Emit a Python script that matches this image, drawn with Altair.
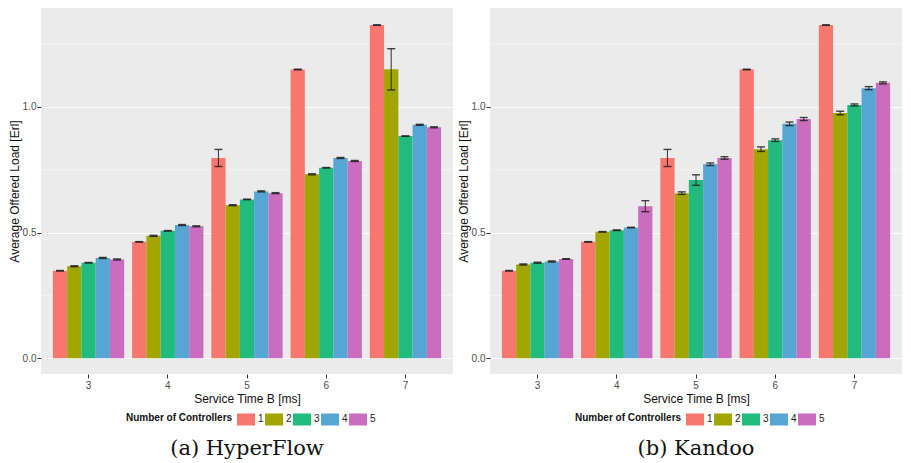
import altair as alt
import pandas as pd

service_times = ["3", "4", "5", "6", "7"]
controllers = ["1", "2", "3", "4", "5"]
colors = ["#F7766D", "#A3A500", "#22BB7D", "#57A5D3", "#CA6DBE"]

# HyperFlow: mean per controller count, indexed by service time 3..7
hyper_mean = {
    "1": [0.348, 0.463, 0.797, 1.149, 1.326],
    "2": [0.366, 0.487, 0.609, 0.732, 1.150],
    "3": [0.380, 0.507, 0.632, 0.758, 0.884],
    "4": [0.399, 0.530, 0.664, 0.797, 0.929],
    "5": [0.393, 0.525, 0.657, 0.785, 0.919],
}
hyper_err = {
    "1": [0.001, 0.001, 0.034, 0.001, 0.001],
    "2": [0.002, 0.002, 0.002, 0.002, 0.082],
    "3": [0.001, 0.001, 0.001, 0.001, 0.001],
    "4": [0.002, 0.002, 0.002, 0.002, 0.002],
    "5": [0.002, 0.002, 0.002, 0.002, 0.002],
}
# Kandoo
kandoo_mean = {
    "1": [0.348, 0.463, 0.797, 1.149, 1.326],
    "2": [0.373, 0.503, 0.657, 0.832, 0.976],
    "3": [0.380, 0.509, 0.709, 0.868, 1.008],
    "4": [0.385, 0.520, 0.772, 0.933, 1.075],
    "5": [0.395, 0.605, 0.797, 0.952, 1.096],
}
kandoo_err = {
    "1": [0.001, 0.001, 0.034, 0.001, 0.001],
    "2": [0.002, 0.001, 0.005, 0.009, 0.007],
    "3": [0.002, 0.001, 0.021, 0.005, 0.004],
    "4": [0.002, 0.001, 0.005, 0.007, 0.006],
    "5": [0.001, 0.022, 0.005, 0.006, 0.004],
}
major_ticks = [0.0, 0.5, 1.0]
minor_ticks = [0.25, 0.75, 1.25]
y_domain = [-0.063, 1.394]

FONT = "Liberation Sans"
W, H = 412, 366


def panel(mean, err, caption):
    rows = []
    for c in controllers:
        for i, s in enumerate(service_times):
            m = mean[c][i]
            e = err[c][i]
            rows.append({"service": s, "ctrl": c, "mean": m, "lo": m - e, "hi": m + e})
    df = pd.DataFrame(rows)

    xenc = alt.X(
        "service:N",
        title="Service Time B [ms]",
        sort=service_times,
        scale=alt.Scale(paddingInner=0.1, paddingOuter=0.15),
        axis=alt.Axis(labelAngle=0, bandPosition=0.5),
    )
    xoff = alt.XOffset("ctrl:N", sort=controllers, scale=alt.Scale(paddingInner=0, paddingOuter=0))
    yscale = alt.Scale(domain=y_domain, nice=False, zero=False)

    minor = (
        alt.Chart(pd.DataFrame({"v": minor_ticks}))
        .mark_rule(color="white", strokeWidth=0.5)
        .encode(y=alt.Y("v:Q", scale=yscale))
    )
    base = alt.Chart(df)
    bars = base.mark_bar(opacity=1).encode(
        x=xenc,
        xOffset=xoff,
        y=alt.Y(
            "mean:Q",
            scale=yscale,
            title="Average Offered Load [Erl]",
            axis=alt.Axis(values=major_ticks, format=".1f"),
        ),
        y2=alt.datum(0),
        color=alt.Color(
            "ctrl:N",
            sort=controllers,
            scale=alt.Scale(domain=controllers, range=colors),
            title="Number of Controllers",
            legend=alt.Legend(orient="none", legendX=85, legendY=402),
        ),
    )
    rules = base.mark_rule(color="#222222", strokeWidth=1.1, opacity=0.85).encode(
        x=alt.X("service:N", sort=service_times),
        xOffset=alt.XOffset("ctrl:N", sort=controllers),
        y=alt.Y("lo:Q", scale=yscale),
        y2="hi:Q",
    )
    cap_lo = base.mark_tick(color="#222222", size=8, thickness=1.4, opacity=0.85).encode(
        x=alt.X("service:N", sort=service_times),
        xOffset=alt.XOffset("ctrl:N", sort=controllers),
        y=alt.Y("lo:Q", scale=yscale),
    )
    cap_hi = base.mark_tick(color="#222222", size=8, thickness=1.4, opacity=0.85).encode(
        x=alt.X("service:N", sort=service_times),
        xOffset=alt.XOffset("ctrl:N", sort=controllers),
        y=alt.Y("hi:Q", scale=yscale),
    )
    return alt.layer(minor, bars, rules, cap_lo, cap_hi).properties(
        width=W,
        height=H,
        title=alt.TitleParams(
            caption,
            orient="bottom",
            anchor="middle",
            font="DejaVu Serif",
            fontSize=21,
            fontWeight="normal",
            color="#111111",
            offset=12,
        ),
    )


left = panel(hyper_mean, hyper_err, "(a) HyperFlow")
right = panel(kandoo_mean, kandoo_err, "(b) Kandoo")

chart = (
    alt.hconcat(left, right, spacing=3)
    .resolve_legend(color="independent")
    .properties(padding=0)
    .configure_view(fill="#EBEBEB", stroke=None)
    .configure_axis(
        labelFont=FONT,
        titleFont=FONT,
        labelFontSize=10,
        labelColor="#4D4D4D",
        titleFontSize=12,
        titleFontWeight="normal",
        titleColor="#111111",
        domain=False,
        tickColor="#333333",
        tickSize=4,
        tickWidth=1,
        gridColor="white",
        gridWidth=1.1,
        labelPadding=2,
        titlePadding=3,
    )
    .configure_axisY(labelPadding=1, titlePadding=1)
    .configure_legend(
        direction="horizontal",
        titleOrient="left",
        titleFont=FONT,
        labelFont=FONT,
        titleFontSize=10,
        titleFontWeight="bold",
        titleColor="#111111",
        labelFontSize=10,
        labelColor="#222222",
        symbolType="M-1,-0.667H1V0.667H-1Z",
        symbolSize=324,
        symbolStrokeWidth=0,
        symbolOpacity=1,
        labelOffset=3,
        columnPadding=1,
        titlePadding=4,
    )
)

chart.save("out.html", embed_options={"renderer": "svg", "actions": False})
